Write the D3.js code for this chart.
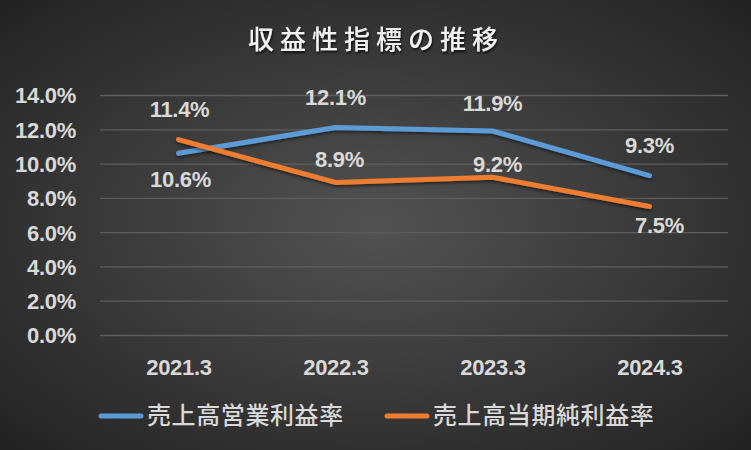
<!DOCTYPE html>
<html>
<head>
<meta charset="utf-8">
<script src="https://cdn.jsdelivr.net/npm/d3@7"></script>
<style>
  body { margin: 0; background: #2b2b2b; }
  svg { display: block; }
</style>
</head>
<body>
<svg id="chart"></svg>
<script>
// data
const years = ["2021.3", "2022.3", "2023.3", "2024.3"];
const operatingMargin = [0.106, 0.121, 0.119, 0.093];   // 売上高営業利益率
const netMargin = [0.114, 0.089, 0.092, 0.075];          // 売上高当期純利益率
const seriesNames = ["売上高営業利益率", "売上高当期純利益率"];
const yTicks = [0, 0.02, 0.04, 0.06, 0.08, 0.10, 0.12, 0.14];

// label nudges (pixels from each point), kept apart from the values
const labelShift = [
    [[2, 26], [0, -30], [0, -28], [0, -30]],
    [[1, -30], [4, -23], [5, -13], [10, 19]]
];

const W = 751, H = 450;
const margin = { top: 95, right: 23, bottom: 115, left: 100 };

const svg = d3.select("#chart").attr("width", W).attr("height", H);

// background gradient + shadow
const defs = svg.append("defs");
const bg = defs.append("radialGradient").attr("id", "bg")
    .attr("cx", "50%").attr("cy", "50%").attr("r", "75%");
bg.append("stop").attr("offset", "0%").attr("stop-color", "#525252");
bg.append("stop").attr("offset", "100%").attr("stop-color", "#1f1f1f");

const shadow = defs.append("filter").attr("id", "shadow")
    .attr("x", "-10%").attr("y", "-20%").attr("width", "120%").attr("height", "150%");
shadow.append("feDropShadow").attr("dx", 1).attr("dy", 2).attr("stdDeviation", 1.2)
    .attr("flood-color", "#000").attr("flood-opacity", 0.7);

const lineShadow = defs.append("filter").attr("id", "lshadow")
    .attr("x", "-10%").attr("y", "-50%").attr("width", "120%").attr("height", "200%");
lineShadow.append("feDropShadow").attr("dx", 0).attr("dy", 2).attr("stdDeviation", 1.5)
    .attr("flood-color", "#000").attr("flood-opacity", 0.5);

svg.append("rect").attr("width", W).attr("height", H).attr("fill", "url(#bg)");

// scales
const x = d3.scalePoint()
    .domain(years)
    .range([margin.left, W - margin.right])
    .padding(0.5);

const y = d3.scaleLinear()
    .domain([0, 0.14])
    .range([H - margin.bottom, margin.top]);

const latin = "'Liberation Sans', Arial, sans-serif";
const cjk = "'Noto Sans CJK JP', 'Noto Sans CJK SC', sans-serif";
const labelColor = "#d9d9d9";

// title
svg.append("text")
    .attr("x", 376)
    .attr("y", 40)
    .attr("text-anchor", "middle")
    .attr("dy", "0.35em")
    .attr("filter", "url(#shadow)")
    .style("font-family", cjk)
    .style("font-size", "26px")
    .style("font-weight", 500)
    .style("letter-spacing", "6px")
    .style("fill", "#f2f2f2")
    .text("収益性指標の推移");

// gridlines + y axis
const yAxis = svg.append("g")
    .attr("class", "y-axis")
    .attr("transform", `translate(${margin.left},0)`)
    .call(d3.axisLeft(y)
        .tickValues(yTicks)
        .tickSize(-(W - margin.left - margin.right))
        .tickPadding(24)
        .tickFormat(d3.format(".1%")));

yAxis.select(".domain").remove();
yAxis.selectAll(".tick line")
    .attr("stroke", "#5e5e5e")
    .attr("stroke-width", 1.3);
yAxis.selectAll(".tick text")
    .attr("dy", "0.36em")
    .style("font-family", latin)
    .style("font-size", "22px")
    .style("font-weight", "bold")
    .style("letter-spacing", "-0.3px")
    .style("fill", labelColor);

// x axis labels
const xAxis = svg.append("g")
    .attr("class", "x-axis")
    .attr("transform", `translate(0,${H - margin.bottom})`)
    .call(d3.axisBottom(x).tickSize(0).tickPadding(40));

xAxis.select(".domain").remove();
xAxis.selectAll(".tick text")
    .attr("dy", 0)
    .style("font-family", latin)
    .style("font-size", "22px")
    .style("font-weight", "bold")
    .style("letter-spacing", "-0.3px")
    .style("fill", labelColor);

// lines
const series = [
    { name: seriesNames[0], values: operatingMargin, color: "#5b9bd5" },
    { name: seriesNames[1], values: netMargin, color: "#ed7d31" }
];

const line = d3.line()
    .x((d, i) => x(years[i]))
    .y(d => y(d));

series.forEach(s => {
    svg.append("path")
        .datum(s.values)
        .attr("d", line)
        .attr("fill", "none")
        .attr("stroke", s.color)
        .attr("stroke-width", 5)
        .attr("stroke-linecap", "round")
        .attr("stroke-linejoin", "round")
        .attr("filter", "url(#lshadow)");
});

// data labels
series.forEach((s, si) => {
    svg.append("g").selectAll("text")
        .data(s.values)
        .enter().append("text")
        .attr("x", (d, i) => x(years[i]) + labelShift[si][i][0])
        .attr("y", (d, i) => y(d) + labelShift[si][i][1])
        .attr("dy", "0.36em")
        .attr("text-anchor", "middle")
        .style("font-family", latin)
        .style("font-size", "22px")
        .style("font-weight", "bold")
        .style("letter-spacing", "-0.3px")
        .style("fill", labelColor)
        .text(d => d3.format(".1%")(d));
});

// legend
const legendItems = [
    { x: 99, series: series[0] },
    { x: 385, series: series[1] }
];
const legend = svg.append("g").attr("class", "legend");
legendItems.forEach(item => {
    const g = legend.append("g").attr("transform", `translate(${item.x},416)`);
    g.append("line")
        .attr("x1", 2).attr("x2", 42)
        .attr("y1", 0).attr("y2", 0)
        .attr("stroke", item.series.color)
        .attr("stroke-width", 5)
        .attr("stroke-linecap", "round");
    g.append("text")
        .attr("x", 48)
        .attr("dy", "0.35em")
        .style("font-family", cjk)
        .style("font-size", "24px")
        .style("font-weight", 500)
        .style("letter-spacing", "0.6px")
        .style("fill", labelColor)
        .text(item.series.name);
});
</script>
</body>
</html>
